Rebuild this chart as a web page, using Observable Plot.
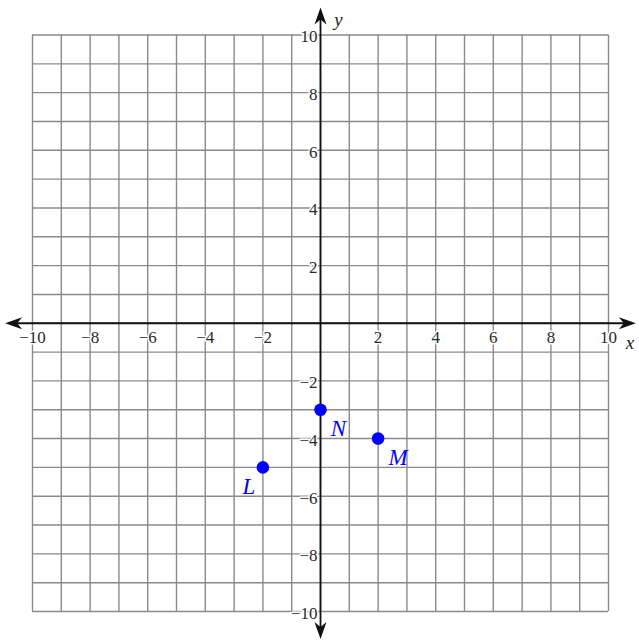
<!DOCTYPE html>
<html>
<head>
<meta charset="utf-8">
<script src="https://cdn.jsdelivr.net/npm/d3@7"></script>
<script src="https://cdn.jsdelivr.net/npm/@observablehq/plot@0.6"></script>
<style>
  html, body { margin: 0; padding: 0; background: #fff; }
  #chart { width: 639px; height: 640px; }
</style>
</head>
<body>
<div id="chart"></div>
<script>
// Grid values (one line per unit)
const gridValues = [-10,-9,-8,-7,-6,-5,-4,-3,-2,-1,0,1,2,3,4,5,6,7,8,9,10];
// Tick labels
const xTickValues = [-10,-8,-6,-4,-2,2,4,6,8,10];
const yTickValues = [-10,-8,-6,-4,-2,2,4,6,8,10];
// Points
const pointNames = ["L", "M", "N"];
const pointX = [-2, 2, 0];
const pointY = [-5, -4, -3];

const points = pointNames.map((n, i) => ({name: n, x: pointX[i], y: pointY[i]}));
const fmt = d => (d < 0 ? "\u2212" + Math.abs(d) : String(d));
const FONT = "Liberation Serif";

const ext = 10.95;   // arrow tips
const lineExt = 10.6;

function arrowSymbol(dir) {
  const L = 17, W = 6, N = 12;
  return {
    draw(ctx) {
      let pts;
      if (dir === "right") pts = [[0,0],[-L,-W],[-N,0],[-L,W]];
      else if (dir === "left") pts = [[0,0],[L,-W],[N,0],[L,W]];
      else if (dir === "up") pts = [[0,0],[-W,L],[0,N],[W,L]];
      else pts = [[0,0],[-W,-L],[0,-N],[W,-L]];
      ctx.moveTo(pts[0][0], pts[0][1]);
      for (let i = 1; i < pts.length; i++) ctx.lineTo(pts[i][0], pts[i][1]);
      ctx.closePath();
    }
  };
}

function pointLabel(name, dx) {
  return Plot.text(points.filter(p => p.name === name), {
    x: "x", y: "y", text: "name", dx, dy: 19, fontSize: 23, fontStyle: "italic",
    fontFamily: FONT, fill: "#0000ff"
  });
}

const chart = Plot.plot({
  width: 639,
  height: 640,
  marginLeft: 32,
  marginRight: 31,
  marginTop: 34.5,
  marginBottom: 29,
  x: {domain: [-10, 10], axis: null},
  y: {domain: [-10, 10], axis: null},
  style: {background: "#fff", fontFamily: FONT},
  marks: [
    Plot.ruleX(gridValues, {x: d => d, y1: -10, y2: 10, stroke: "#8a8a8a", strokeWidth: 1.4}),
    Plot.ruleY(gridValues, {y: d => d, x1: -10, x2: 10, stroke: "#8a8a8a", strokeWidth: 1.4}),
    Plot.ruleY([0], {x1: -lineExt, x2: lineExt, stroke: "#111", strokeWidth: 1.8}),
    Plot.ruleX([0], {y1: -lineExt, y2: lineExt, stroke: "#111", strokeWidth: 1.8}),
    Plot.dot([{x: ext, y: 0}], {x: "x", y: "y", symbol: arrowSymbol("right"), fill: "#111", stroke: "none"}),
    Plot.dot([{x: -ext, y: 0}], {x: "x", y: "y", symbol: arrowSymbol("left"), fill: "#111", stroke: "none"}),
    Plot.dot([{x: 0, y: ext}], {x: "x", y: "y", symbol: arrowSymbol("up"), fill: "#111", stroke: "none"}),
    Plot.dot([{x: 0, y: -ext}], {x: "x", y: "y", symbol: arrowSymbol("down"), fill: "#111", stroke: "none"}),
    Plot.text(xTickValues, {x: d => d, y: 0, text: fmt, dy: 14, fontSize: 17, fontFamily: FONT, fill: "#2a2a2a",
      stroke: "#fff", strokeWidth: 3, paintOrder: "stroke"}),
    Plot.text(yTickValues, {x: 0, y: d => d, text: fmt, dx: -3, dy: 2, textAnchor: "end", fontSize: 17, fontFamily: FONT, fill: "#2a2a2a",
      stroke: "#fff", strokeWidth: 3, paintOrder: "stroke"}),
    Plot.text(["x"], {x: ext, y: 0, text: d => d, dx: -6, dy: 20, fontSize: 19, fontStyle: "italic", fontFamily: FONT, fill: "#222"}),
    Plot.text(["y"], {x: 0, y: ext, text: d => d, dx: 18, dy: 12, fontSize: 19, fontStyle: "italic", fontFamily: FONT, fill: "#222"}),
    Plot.dot(points, {x: "x", y: "y", r: 6.3, fill: "#0000ff", stroke: "none"}),
    pointLabel("L", -14),
    pointLabel("M", 20),
    pointLabel("N", 18)
  ]
});

document.getElementById("chart").appendChild(chart);
</script>
</body>
</html>
